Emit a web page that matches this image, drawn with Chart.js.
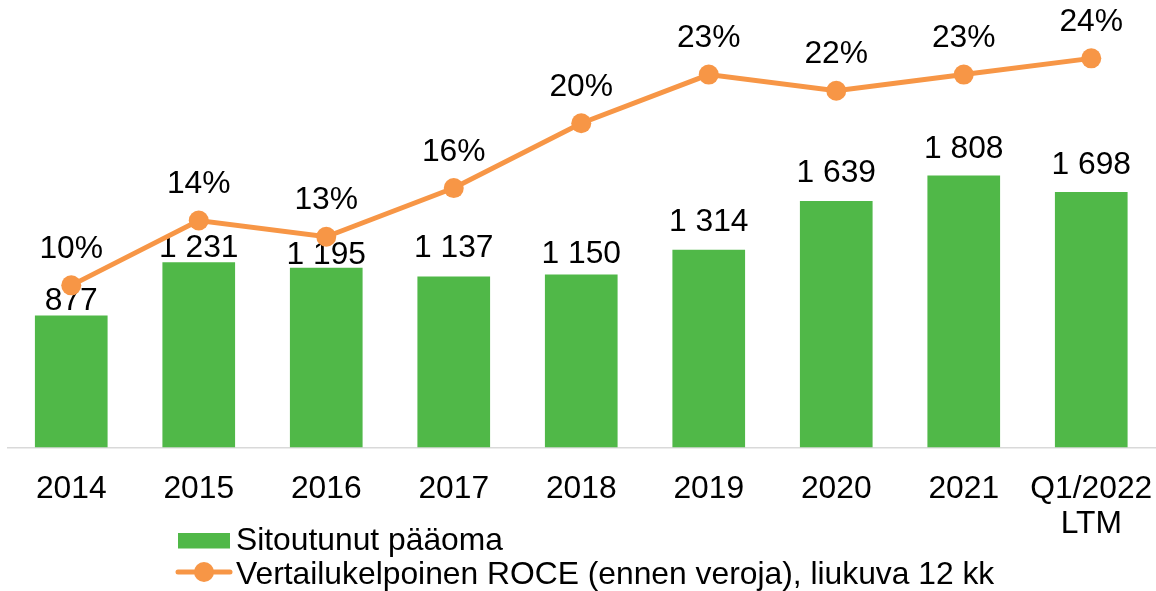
<!DOCTYPE html>
<html>
<head>
<meta charset="utf-8">
<script src="https://cdn.jsdelivr.net/npm/chart.js@4/dist/chart.umd.min.js"></script>
<style>
  html, body { margin: 0; padding: 0; background: #ffffff; }
  #wrap { width: 1156px; height: 591px; position: relative; }
</style>
</head>
<body>
<div id="wrap"><canvas id="roceChart"></canvas></div>
<script>
const categories = ['2014', '2015', '2016', '2017', '2018', '2019', '2020', '2021', ['Q1/2022', 'LTM']];
const capitalEmployed = [877, 1231, 1195, 1137, 1150, 1314, 1639, 1808, 1698];
const rocePercent = [10, 14, 13, 16, 20, 23, 22, 23, 24];
const seriesNames = ['Sitoutunut pääoma', 'Vertailukelpoinen ROCE (ennen veroja), liukuva 12 kk'];

const GREEN = '#50b848';
const ORANGE = '#f79646';
const FONT = "'Liberation Sans', Arial, sans-serif";
const FONT_SIZE = 31.8;

function withSpaces(n) {
  return String(n).replace(/\B(?=(\d{3})+(?!\d))/g, ' ');
}

// value labels: bar labels go under the line, line labels on top
const valueLabels = {
  id: 'valueLabels',
  afterDatasetDraw(chart, args, opts) {
    if (args.index !== 0) return;
    const ctx = chart.ctx;
    const meta = chart.getDatasetMeta(0);
    ctx.save();
    ctx.font = `${FONT_SIZE}px ${FONT}`;
    ctx.fillStyle = '#000';
    ctx.textAlign = 'center';
    ctx.textBaseline = 'alphabetic';
    meta.data.forEach((bar, i) => {
      const lift = opts.barLift[i];
      ctx.fillText(withSpaces(chart.data.datasets[0].data[i]), bar.x, bar.y - lift);
    });
    ctx.restore();
  },
  afterDatasetsDraw(chart, args, opts) {
    const ctx = chart.ctx;
    const meta = chart.getDatasetMeta(1);
    ctx.save();
    ctx.font = `${FONT_SIZE}px ${FONT}`;
    ctx.fillStyle = '#000';
    ctx.textAlign = 'center';
    ctx.textBaseline = 'alphabetic';
    meta.data.forEach((pt, i) => {
      ctx.fillText(chart.data.datasets[1].data[i] + '%', pt.x, pt.y - opts.lineLift);
    });
    ctx.restore();
  }
};

// legend drawn by hand, two rows under the axis labels
const bottomLegend = {
  id: 'bottomLegend',
  afterDraw(chart) {
    const ctx = chart.ctx;
    const ds = chart.data.datasets;
    ctx.save();
    ctx.font = `${FONT_SIZE}px ${FONT}`;
    ctx.textBaseline = 'alphabetic';
    ctx.textAlign = 'left';

    ctx.fillStyle = GREEN;
    ctx.fillRect(178, 533, 52, 15.5);
    ctx.fillStyle = '#000';
    ctx.fillText(ds[0].label, 236, 550);

    ctx.strokeStyle = ORANGE;
    ctx.lineWidth = 5;
    ctx.lineCap = 'round';
    ctx.beginPath();
    ctx.moveTo(178, 572);
    ctx.lineTo(230, 572);
    ctx.stroke();
    ctx.fillStyle = ORANGE;
    ctx.beginPath();
    ctx.arc(204, 572, 10, 0, Math.PI * 2);
    ctx.fill();
    ctx.fillStyle = '#000';
    ctx.fillText(ds[1].label, 236, 584);
    ctx.restore();
  }
};

const ctx = document.getElementById('roceChart').getContext('2d');

new Chart(ctx, {
  type: 'bar',
  data: {
    labels: categories,
    datasets: [
      {
        type: 'bar',
        label: seriesNames[0],
        data: capitalEmployed,
        backgroundColor: GREEN,
        borderWidth: 0,
        categoryPercentage: 1,
        barPercentage: 0.57,
        yAxisID: 'y',
        order: 2
      },
      {
        type: 'line',
        label: seriesNames[1],
        data: rocePercent,
        borderColor: ORANGE,
        backgroundColor: ORANGE,
        borderWidth: 5,
        pointRadius: 10,
        pointBorderWidth: 0,
        pointBackgroundColor: ORANGE,
        tension: 0,
        clip: false,
        yAxisID: 'y1',
        order: 1
      }
    ]
  },
  options: {
    responsive: true,
    maintainAspectRatio: false,
    animation: false,
    layout: { autoPadding: false, padding: { left: 7.5, right: 1, top: 0, bottom: 0 } },
    plugins: {
      legend: { display: false },
      tooltip: { enabled: false },
      valueLabels: {
        barLift: [6, 5, 4, 19, 12, 18.5, 19, 18, 18],
        lineLift: 27.5
      }
    },
    scales: {
      x: {
        grid: { display: false, drawTicks: false },
        border: { display: true, color: '#d9d9d9', width: 1.5 },
        ticks: {
          color: '#000',
          padding: 24,
          maxRotation: 0,
          autoSkip: false,
          font: { family: FONT, size: FONT_SIZE, lineHeight: 1.1 }
        },
        afterFit(scale) {
          scale.height = 143.5;
          scale.paddingLeft = 0;
          scale.paddingRight = 0;
        }
      },
      y: { display: false, min: 0, max: 2975 },
      y1: { display: false, min: 0, max: 27.6, position: 'right' }
    }
  },
  plugins: [valueLabels, bottomLegend]
});
</script>
</body>
</html>
